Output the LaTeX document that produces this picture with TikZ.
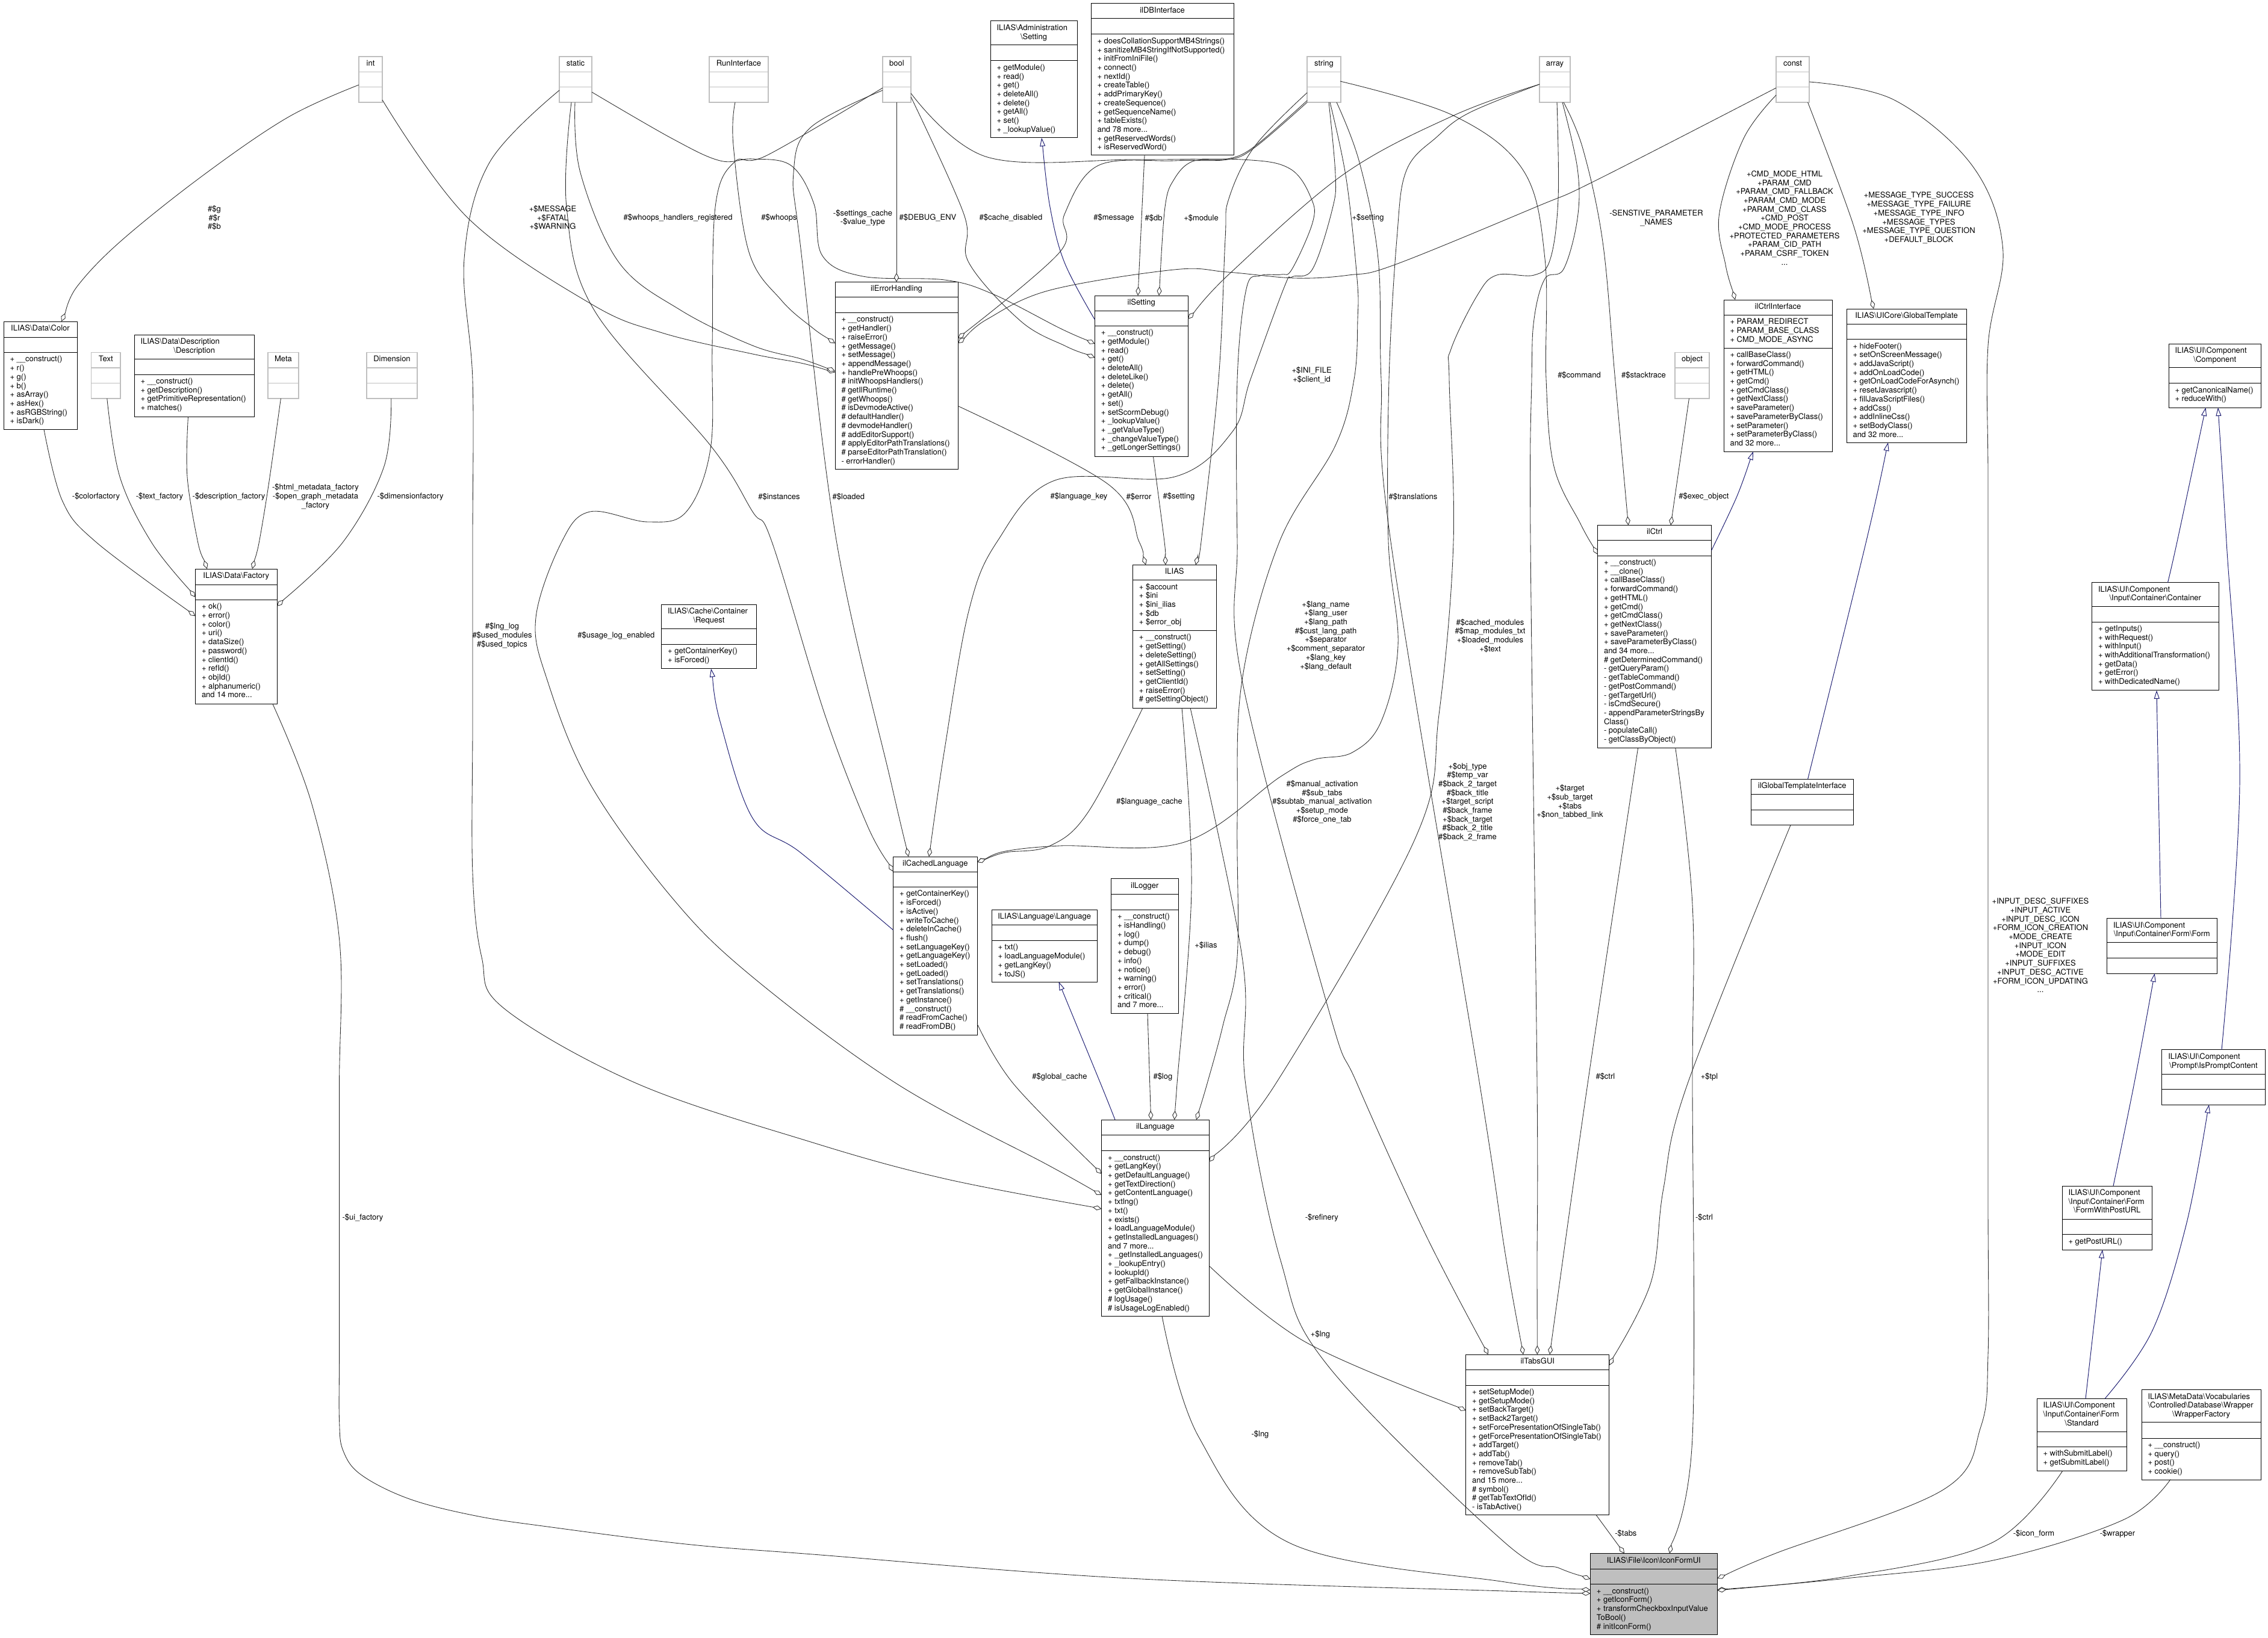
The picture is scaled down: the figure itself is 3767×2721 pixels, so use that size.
\documentclass[tikz,border=0pt]{standalone}
\usepackage{fontspec}
\setmainfont{TeX Gyre Heros}
\usetikzlibrary{arrows.meta,calc}
\definecolor{edgecol}{HTML}{2A2A2A}
\definecolor{navyedge}{HTML}{191970}
\definecolor{ghostcol}{HTML}{BFBFBF}
\tikzset{
  umlframe/.style={draw=black,line width=1pt},
  ghost/.style={draw=ghostcol,line width=1.4pt},
  rootframe/.style={draw=black,fill=ghostcol,line width=1pt},
  ctext/.style={inner sep=0pt,outer sep=0pt,align=left,font=\fontsize{13}{14.7}\selectfont},
  lab/.style={inner sep=0pt,outer sep=0pt,align=center,font=\fontsize{13}{14.7}\selectfont},
  dep/.style={draw=edgecol,line width=0.85pt,-{Diamond[fill=white,length=15pt,width=8pt]}},
  inh/.style={draw=navyedge,line width=0.95pt,-{Triangle[fill=white,length=14pt,width=9pt]}},
  sm/.style={smooth,tension=0.6}
}
\newcommand{\cls}[8][umlframe]{%
  \pgfmathsetmacro{\cw}{#5-#3}%
  \pgfmathsetmacro{\ch}{#6-#4}%
  \def\cname{#2}\def\cx{#3}\def\cxx{#5}\def\la{#7}\def\lb{#8}%
  \node[#1,rectangle,inner sep=0pt,outer sep=0pt,anchor=north west,minimum width=\cw pt,minimum height=\ch pt] (#2) at (#3,#4) {};
  \draw[#1] (#3,#7) -- (#5,#7);
  \draw[#1] (#3,#8) -- (#5,#8);
}
\newcommand{\tlft}[1]{\makebox[\cw pt][l]{\hspace*{10.5pt}#1}}
\newcommand{\tctr}[1]{\makebox[\cw pt][c]{#1}}
\newcommand{\clsT}[1]{\node[ctext,anchor=north west] (\cname-t) at ([shift={(0,5.2)}]\cname.north west) {\strut#1};}
\newcommand{\clsA}[1]{\node[ctext,anchor=north west] (\cname-a) at (\cx+10.5,\la+5.2) {\strut#1};}
\newcommand{\clsM}[1]{\node[ctext,anchor=north west] (\cname-m) at (\cx+10.5,\lb+5.2) {\strut#1};}
\newcommand{\lbl}[4]{\node[lab] (#1) at (#2,#3) {#4};}
\begin{document}
\begin{tikzpicture}[x=1pt,y=-1pt]
\useasboundingbox (0,0) rectangle (3767,2721);
\fill[white] (0,0) rectangle (3767,2721);
% ---------- undocumented types
\cls[ghost]{int}{596}{94}{635}{170}{119.4}{144.6} \clsT{\tctr{int}}
\cls[ghost]{static}{929}{94}{983}{170}{119.4}{144.6} \clsT{\tctr{static}}
\cls[ghost]{run}{1178}{94}{1276}{170}{119.4}{144.6} \clsT{\tctr{RunInterface}}
\cls[ghost]{bool}{1466}{94}{1513}{170}{119.4}{144.6} \clsT{\tctr{bool}}
\cls[ghost]{string}{2171}{94}{2227}{170}{119.4}{144.6} \clsT{\tctr{string}}
\cls[ghost]{array}{2557}{94}{2608}{170}{119.4}{144.6} \clsT{\tctr{array}}
\cls[ghost]{const}{2950}{94}{3005}{170}{119.4}{144.6} \clsT{\tctr{const}}
\cls[ghost]{text}{151.5}{585.5}{200}{662}{611}{636.6} \clsT{\tctr{Text}}
\cls[ghost]{meta}{445}{585.5}{496}{662}{611}{636.6} \clsT{\tctr{Meta}}
\cls[ghost]{dim}{609}{585.5}{693}{662}{611}{636.6} \clsT{\tctr{Dimension}}
\cls[ghost]{object}{2782}{585.5}{2839}{662}{611}{636.6} \clsT{\tctr{object}}
% ---------- classes
\cls{adminset}{1645}{35}{1789}{229}{74.6}{101}
\clsT{\tlft{ILIAS\textbackslash Administration}\\\tctr{\textbackslash Setting}}
\clsM{+ getModule()\\+ read()\\+ get()\\+ deleteAll()\\+ delete()\\+ getAll()\\+ set()\\+ \_lookupValue()}
\cls{db}{1812}{6}{2049}{258}{31}{57}
\clsT{\tctr{ilDBInterface}}
\clsM{+ doesCollationSupportMB4Strings()\\+ sanitizeMB4StringIfNotSupported()\\+ initFromIniFile()\\+ connect()\\+ nextId()\\+ createTable()\\+ addPrimaryKey()\\+ createSequence()\\+ getSequenceName()\\+ tableExists()\\and 78 more...\\+ getReservedWords()\\+ isReservedWord()}
\cls{color}{6}{534}{128}{713.5}{560}{585.5}
\clsT{\tctr{ILIAS\textbackslash Data\textbackslash Color}}
\clsM{+ \_\_construct()\\+ r()\\+ g()\\+ b()\\+ asArray()\\+ asHex()\\+ asRGBString()\\+ isDark()}
\cls{desc}{223}{556}{422.5}{692}{596.4}{622}
\clsT{\tlft{ILIAS\textbackslash Data\textbackslash Description}\\\tctr{\textbackslash Description}}
\clsM{+ \_\_construct()\\+ getDescription()\\+ getPrimitiveRepresentation()\\+ matches()}
\cls{factory}{324.5}{945}{460}{1169}{971}{996.4}
\clsT{\tctr{ILIAS\textbackslash Data\textbackslash Factory}}
\clsM{+ ok()\\+ error()\\+ color()\\+ uri()\\+ dataSize()\\+ password()\\+ clientId()\\+ refId()\\+ objId()\\+ alphanumeric()\\and 14 more...}
\cls{request}{1098.6}{1004.5}{1256.4}{1110.7}{1044.6}{1070}
\clsT{\tlft{ILIAS\textbackslash Cache\textbackslash Container}\\\tctr{\textbackslash Request}}
\clsM{+ getContainerKey()\\+ isForced()}
\cls{eh}{1387}{468.4}{1591}{779.5}{493.6}{519.5}
\clsT{\tctr{ilErrorHandling}}
\clsM{+ \_\_construct()\\+ getHandler()\\+ raiseError()\\+ getMessage()\\+ setMessage()\\+ appendMessage()\\+ handlePreWhoops()\\\# initWhoopsHandlers()\\\# getIlRuntime()\\\# getWhoops()\\\# isDevmodeActive()\\\# defaultHandler()\\\# devmodeHandler()\\\# addEditorSupport()\\\# applyEditorPathTranslations()\\\# parseEditorPathTranslation()\\- errorHandler()}
\cls{set}{1818.4}{491}{1973}{758}{516}{541.3}
\clsT{\tctr{ilSetting}}
\clsM{+ \_\_construct()\\+ getModule()\\+ read()\\+ get()\\+ deleteAll()\\+ deleteLike()\\+ delete()\\+ getAll()\\+ set()\\+ setScormDebug()\\+ \_lookupValue()\\+ \_getValueType()\\+ \_changeValueType()\\+ \_getLongerSettings()}
\cls{cif}{2863}{498}{3043}{750}{523.5}{578}
\clsT{\tctr{ilCtrlInterface}}
\clsA{+ PARAM\_REDIRECT\\+ PARAM\_BASE\_CLASS\\+ CMD\_MODE\_ASYNC}
\clsM{+ callBaseClass()\\+ forwardCommand()\\+ getHTML()\\+ getCmd()\\+ getCmdClass()\\+ getNextClass()\\+ saveParameter()\\+ saveParameterByClass()\\+ setParameter()\\+ setParameterByClass()\\and 32 more...}
\cls{gt}{3067}{513}{3266}{735}{538}{563.7}
\clsT{\tctr{ILIAS\textbackslash UICore\textbackslash GlobalTemplate}}
\clsM{+ hideFooter()\\+ setOnScreenMessage()\\+ addJavaScript()\\+ addOnLoadCode()\\+ getOnLoadCodeForAsynch()\\+ resetJavascript()\\+ fillJavaScriptFiles()\\+ addCss()\\+ addInlineCss()\\+ setBodyClass()\\and 32 more...}
\cls{ctrl}{2653.5}{872.5}{2842.6}{1242.7}{897.7}{923}
\clsT{\tctr{ilCtrl}}
\clsM{+ \_\_construct()\\+ \_\_clone()\\+ callBaseClass()\\+ forwardCommand()\\+ getHTML()\\+ getCmd()\\+ getCmdClass()\\+ getNextClass()\\+ saveParameter()\\+ saveParameterByClass()\\and 34 more...\\\# getDeterminedCommand()\\- getQueryParam()\\- getTableCommand()\\- getPostCommand()\\- getTargetUrl()\\- isCmdSecure()\\- appendParameterStringsBy\\Class()\\- populateCall()\\- getClassByObject()}
\cls{comp}{3602}{571}{3755.6}{677}{610.7}{636.6}
\clsT{\tlft{ILIAS\textbackslash UI\textbackslash Component}\\\tctr{\textbackslash Component}}
\clsM{+ getCanonicalName()\\+ reduceWith()}
\cls{cont}{3474.5}{967.7}{3685}{1146.8}{1007.3}{1033}
\clsT{\tlft{ILIAS\textbackslash UI\textbackslash Component}\\\tctr{\textbackslash Input\textbackslash Container\textbackslash Container}}
\clsM{+ getInputs()\\+ withRequest()\\+ withInput()\\+ withAdditionalTransformation()\\+ getData()\\+ getError()\\+ withDedicatedName()}
\cls{form}{3499.5}{1525.7}{3682}{1617}{1565.8}{1591.7}
\clsT{\tlft{ILIAS\textbackslash UI\textbackslash Component}\\\tctr{\textbackslash Input\textbackslash Container\textbackslash Form\textbackslash Form}}
\cls{prompt}{3590.8}{1743.8}{3762}{1835}{1784.5}{1809.4}
\clsT{\tlft{ILIAS\textbackslash UI\textbackslash Component}\\\tctr{\textbackslash Prompt\textbackslash IsPromptContent}}
\cls{git}{2908}{1294.3}{3078.5}{1370.7}{1319.6}{1345.4}
\clsT{\tctr{ilGlobalTemplateInterface}}
\cls{ilias}{1881.4}{938.5}{2020}{1176}{963.7}{1047.5}
\clsT{\tctr{ILIAS}}
\clsA{+ \$account\\+ \$ini\\+ \$ini\_ilias\\+ \$db\\+ \$error\_obj}
\clsM{+ \_\_construct()\\+ getSetting()\\+ deleteSetting()\\+ getAllSettings()\\+ setSetting()\\+ getClientId()\\+ raiseError()\\\# getSettingObject()}
\cls{clang}{1483.6}{1423}{1623}{1719.7}{1448.7}{1473.4}
\clsT{\tctr{ilCachedLanguage}}
\clsM{+ getContainerKey()\\+ isForced()\\+ isActive()\\+ writeToCache()\\+ deleteInCache()\\+ flush()\\+ setLanguageKey()\\+ getLanguageKey()\\+ setLoaded()\\+ getLoaded()\\+ setTranslations()\\+ getTranslations()\\+ getInstance()\\\# \_\_construct()\\\# readFromCache()\\\# readFromDB()}
\cls{lang}{1647}{1511.3}{1822.4}{1631}{1536.6}{1562.4}
\clsT{\tctr{ILIAS\textbackslash Language\textbackslash Language}}
\clsM{+ txt()\\+ loadLanguageModule()\\+ getLangKey()\\+ toJS()}
\cls{logger}{1845.5}{1459.7}{1957}{1683}{1485.5}{1511.3}
\clsT{\tctr{ilLogger}}
\clsM{+ \_\_construct()\\+ isHandling()\\+ log()\\+ dump()\\+ debug()\\+ info()\\+ notice()\\+ warning()\\+ error()\\+ critical()\\and 7 more...}
\cls{ilang}{1829.6}{1860}{2008}{2186}{1885.8}{1911.6}
\clsT{\tctr{ilLanguage}}
\clsM{+ \_\_construct()\\+ getLangKey()\\+ getDefaultLanguage()\\+ getTextDirection()\\+ getContentLanguage()\\+ txtlng()\\+ txt()\\+ exists()\\+ loadLanguageModule()\\+ getInstalledLanguages()\\and 7 more...\\+ \_getInstalledLanguages()\\+ \_lookupEntry()\\+ lookupId()\\+ getFallbackInstance()\\+ getGlobalInstance()\\\# logUsage()\\\# isUsageLogEnabled()}
\cls{tabs}{2434.7}{2250}{2672.9}{2516.6}{2275}{2301}
\clsT{\tctr{ilTabsGUI}}
\clsM{+ setSetupMode()\\+ getSetupMode()\\+ setBackTarget()\\+ setBack2Target()\\+ setForcePresentationOfSingleTab()\\+ getForcePresentationOfSingleTab()\\+ addTarget()\\+ addTab()\\+ removeTab()\\+ removeSubTab()\\and 15 more...\\\# symbol()\\\# getTabTextOfId()\\- isTabActive()}
\cls{std}{3383}{2323.4}{3532}{2443}{2378}{2403}
\clsT{\tlft{ILIAS\textbackslash UI\textbackslash Component}\\\tlft{\textbackslash Input\textbackslash Container\textbackslash Form}\\\tctr{\textbackslash Standard}}
\clsM{+ withSubmitLabel()\\+ getSubmitLabel()}
\cls{post}{3425}{1970}{3574.6}{2076}{2025}{2050.8}
\clsT{\tlft{ILIAS\textbackslash UI\textbackslash Component}\\\tlft{\textbackslash Input\textbackslash Container\textbackslash Form}\\\tctr{\textbackslash FormWithPostURL}}
\clsM{+ getPostURL()}
\cls{wrap}{3557}{2308.7}{3755}{2458}{2362.7}{2389}
\clsT{\tlft{ILIAS\textbackslash MetaData\textbackslash Vocabularies}\\\tlft{\textbackslash Controlled\textbackslash Database\textbackslash Wrapper}\\\tctr{\textbackslash WrapperFactory}}
\clsM{+ \_\_construct()\\+ query()\\+ post()\\+ cookie()}
\cls[rootframe]{icon}{2641.4}{2580.6}{2852.3}{2715}{2606.5}{2631.7}
\clsT{\tctr{ILIAS\textbackslash File\textbackslash Icon\textbackslash IconFormUI}}
\clsM{+ \_\_construct()\\+ getIconForm()\\+ transformCheckboxInputValue\\ToBool()\\\# initIconForm()}
% ---------- inheritance connectors
\draw[inh] plot[sm] coordinates {([shift={(0,40)}]set.north west) (1768,436) (1744,344) ($([shift={(85,194)}]adminset.north west)!16pt!(1744,344)$)} -- ([shift={(85,194)}]adminset.north west);
\draw[inh] plot[sm] coordinates {([shift={(189,42)}]ctrl.north west) (2884,826.6) ($([shift={(49,252)}]cif.north west)!16pt!(2884,826.6)$)} -- ([shift={(49,252)}]cif.north west);
\draw[inh] plot[sm] coordinates {([shift={(94.6,0)}]git.north west) (3099.5,900) ($([shift={(69,222)}]gt.north west)!16pt!(3099.5,900)$)} -- ([shift={(69,222)}]gt.north west);
\draw[inh] plot[sm] coordinates {([shift={(22.4,0)}]ilang.north west) (1828,1800) ($([shift={(111.5,119.7)}]lang.north west)!16pt!(1828,1800)$)} -- ([shift={(111.5,119.7)}]lang.north west);
\draw[inh] plot[sm] coordinates {([shift={(0,122)}]clang.north west) (1330,1416.6) (1250,1359) (1196,1198.5) ($([shift={(82.4,106.2)}]request.north west)!16pt!(1196,1198.5)$)} -- ([shift={(82.4,106.2)}]request.north west);
\draw[inh] plot[sm] coordinates {([shift={(126,0)}]cont.north west) (3616,900) ($([shift={(61.5,106)}]comp.north west)!16pt!(3616,900)$)} -- ([shift={(61.5,106)}]comp.north west);
\draw[inh] plot[sm] coordinates {([shift={(99.2,0)}]prompt.north west) (3720,1302) (3698,900) ($([shift={(82,106)}]comp.north west)!16pt!(3698,900)$)} -- ([shift={(82,106)}]comp.north west);
\draw[inh] ([shift={(89.5,0)}]form.north west) -- ([shift={(107.5,179.1)}]cont.north west);
\draw[inh] plot[sm] coordinates {([shift={(85,0)}]post.north west) (3544.7,1800) ($([shift={(79.2,91.3)}]form.north west)!16pt!(3544.7,1800)$)} -- ([shift={(79.2,91.3)}]form.north west);
\draw[inh] ([shift={(81,0)}]std.north west) -- ([shift={(67,106)}]post.north west);
\draw[inh] plot[sm] coordinates {([shift={(113,0)}]std.north west) (3574.6,2211) (3631,2035) ($([shift={(78.2,91.2)}]prompt.north west)!16pt!(3631,2035)$)} -- ([shift={(78.2,91.2)}]prompt.north west);
% ---------- usage connectors
\draw[dep] plot[sm] coordinates {([shift={(0,47)}]int.north west) (478,195) (335,293) (199,402) (128,476) ($([shift={(96,0)}]color.north west)!16pt!(128,476)$)} -- ([shift={(96,0)}]color.north west);
\draw[dep] plot[sm] coordinates {([shift={(39,72)}]int.north west) (777,362) (982,505) (1100,553) (1250,588) (1330,603) ($([shift={(0,150)}]eh.north west)!16pt!(1330,603)$)} -- ([shift={(0,150)}]eh.north west);
\draw[dep] plot[sm] coordinates {([shift={(26,76)}]static.north west) (964,287) (1028,436) (1130,515) (1250,574) (1330,596) ($([shift={(0,148)}]eh.north west)!16pt!(1330,596)$)} -- ([shift={(0,148)}]eh.north west);
\draw[dep] plot[sm] coordinates {([shift={(0,56)}]static.north west) (813,270) (771,430) (785,631) (785,900) (785,1200) (785,1450) (800,1590) (837,1675) (1058,1800) (1350,1898) (1569,1958) ($([shift={(0,148)}]ilang.north west)!16pt!(1569,1958)$)} -- ([shift={(0,148)}]ilang.north west);
\draw[dep] plot[sm] coordinates {([shift={(20,76)}]static.north west) (941,344) (988,517) (1180,740) (1250,850) (1282,900) (1370,1187) (1440,1370) ($([shift={(0,25)}]clang.north west)!16pt!(1440,1370)$)} -- ([shift={(0,25)}]clang.north west);
\draw[dep] plot[sm] coordinates {([shift={(54,59)}]static.north west) (1116,230) (1196,267) (1250,264) (1314,275) (1352,339) (1366,425) (1433,459) (1569,465) (1648,488) (1760,545) ($([shift={(0,80)}]set.north west)!16pt!(1760,545)$)} -- ([shift={(0,80)}]set.north west);
\draw[dep] plot[sm] coordinates {([shift={(43,76)}]run.north west) (1218,241) (1244,419) (1298,499) (1350,545) ($([shift={(0,102)}]eh.north west)!16pt!(1350,545)$)} -- ([shift={(0,102)}]eh.north west);
\draw[dep] ([shift={(23,76)}]bool.north west) -- ([shift={(102,0)}]eh.north west);
\draw[dep] plot[sm] coordinates {([shift={(0,52)}]bool.north west) (1274,258) (1220,269) (1188,344) (1183,574) (1180,746) (1140,850) (1076,867) (980,850) (933,900) (890,1026) (909,1130) (980,1302) (1116,1491) (1250,1623) (1489,1800) (1740,1935) ($([shift={(0,125)}]ilang.north west)!16pt!(1740,1935)$)} -- ([shift={(0,125)}]ilang.north west);
\draw[dep] plot[sm] coordinates {([shift={(0,56)}]bool.north west) (1346,212) (1318,287) (1330,413) (1389.5,900) (1480,1300) ($([shift={(25.4,0)}]clang.north west)!16pt!(1480,1300)$)} -- ([shift={(25.4,0)}]clang.north west);
\draw[dep] plot[sm] coordinates {([shift={(47,67)}]bool.north west) (1601,356) (1609,436) (1696,534) (1770,575) ($([shift={(0,103)}]set.north west)!16pt!(1770,575)$)} -- ([shift={(0,103)}]set.north west);
\draw[dep] plot[sm] coordinates {([shift={(47,61)}]bool.north west) (1640,261) (1888,265) (2062,265) (2142,280) (2178,330) (2180,370) (2146,447) (2128,456) (2093,458) (2070,480) (2055,630) (2055,900) (2063,1130) (2206,1675) (2254,1800) (2366,2047) ($([shift={(37,0)}]tabs.north west)!16pt!(2366,2047)$)} -- ([shift={(37,0)}]tabs.north west);
\draw[dep] plot[sm] coordinates {([shift={(36,76)}]string.north west) (2218,290) (2213,347) (2180,447) (2146,460) (2133,477) (2077,630) (2047,717) (1951,792) (1752,798) (1656,900) (1609,1015) (1569,1244) ($([shift={(59.4,0)}]clang.north west)!16pt!(1569,1244)$)} -- ([shift={(59.4,0)}]clang.north west);
\draw[dep] plot[sm] coordinates {([shift={(0,60)}]string.north west) (2084,243) (2041,330) (2035,397) (2024,630) (1995,900) ($([shift={(104.6,0)}]ilias.north west)!16pt!(1995,900)$)} -- ([shift={(104.6,0)}]ilias.north west);
\draw[dep] plot[sm] coordinates {([shift={(0,73)}]string.north west) (2084,243) (2039,264) (1981,268) (1950,298) (1935,344) ($([shift={(106.6,0)}]set.north west)!16pt!(1935,344)$)} -- ([shift={(106.6,0)}]set.north west);
\draw[dep] plot[sm] coordinates {([shift={(0,76)}]string.north west) (2084,245) (2039,265) (1950,267) (1824,275) (1768,356) (1760,419) ($([shift={(204,94)}]eh.north west)!16pt!(1760,419)$)} -- ([shift={(204,94)}]eh.north west);
\draw[dep] plot[sm] coordinates {([shift={(0,52)}]const.north west) (2650,300) (2553,343) (2316,440) (2240,457) (2151,462) (2039,452) (1950,448) (1744,482) (1640,530) ($([shift={(204,102)}]eh.north west)!16pt!(1640,530)$)} -- ([shift={(204,102)}]eh.north west);
\draw[dep] plot[sm] coordinates {([shift={(0,46)}]array.north west) (2414,192) (2231,290) (2044,453) ($([shift={(154.6,39)}]set.north west)!16pt!(2044,453)$)} -- ([shift={(154.6,39)}]set.north west);
\draw[dep] plot[sm] coordinates {([shift={(0,46)}]array.north west) (2441,187) (2387,227) (2336,283) (2320,397) (2307,630) (2306,900) (2322,1072) (2294,1198.5) (2246,1250) (2182,1262) (2127,1290) (1967,1399) (1760,1405) (1670,1414) ($([shift={(139.4,9)}]clang.north west)!16pt!(1670,1414)$)} -- ([shift={(139.4,9)}]clang.north west);
\draw[dep] plot[sm] coordinates {([shift={(16.6,237.5)}]ilias.north west) (1808,1348) (1744,1405) (1670,1416) ($([shift={(139.4,9)}]clang.north west)!16pt!(1670,1416)$)} -- ([shift={(139.4,9)}]clang.north west);
\draw[dep] plot[sm] coordinates {([shift={(204,206)}]eh.north west) (1840,804) (1892,900) ($([shift={(21.6,0)}]ilias.north west)!16pt!(1892,900)$)} -- ([shift={(21.6,0)}]ilias.north west);
\draw[dep] plot[sm] coordinates {([shift={(97,267)}]set.north west) (1934,900) ($([shift={(54.6,0)}]ilias.north west)!16pt!(1934,900)$)} -- ([shift={(54.6,0)}]ilias.north west);
\draw[dep] ([shift={(89,252)}]db.north west) -- ([shift={(71.6,0)}]set.north west);
\draw[dep] plot[sm] coordinates {([shift={(55,41)}]string.north west) (2414,192) (2530,283) (2566,430) (2568,630) (2581,775) (2625,870) ($([shift={(0,48.5)}]ctrl.north west)!16pt!(2625,870)$)} -- ([shift={(0,48.5)}]ctrl.north west);
\draw[dep] plot[sm] coordinates {([shift={(40,76)}]array.north west) (2629,247) (2662,402) (2682,623) ($([shift={(51,0)}]ctrl.north west)!16pt!(2682,623)$)} -- ([shift={(51,0)}]ctrl.north west);
\draw[dep] ([shift={(23.4,76.5)}]object.north west) -- ([shift={(121.5,0)}]ctrl.north west);
\draw[dep] plot[sm] coordinates {([shift={(0,64)}]const.north west) (2896,230) (2855.5,356) (2866,440) ($([shift={(19,0)}]cif.north west)!16pt!(2866,440)$)} -- ([shift={(19,0)}]cif.north west);
\draw[dep] plot[sm] coordinates {([shift={(52.6,76)}]const.north west) (3078,373) ($([shift={(45,0)}]gt.north west)!16pt!(3078,373)$)} -- ([shift={(45,0)}]gt.north west);
\draw[dep] plot[sm] coordinates {([shift={(55,42)}]const.north west) (3146,166) (3276,275.5) (3326.6,413) (3302,574) (3302,800) (3302,1200) (3302,1600) (3302,2000) (3302,2250) (3290,2370) (3227,2475) (2950,2580) ($([shift={(210.9,41.4)}]icon.north west)!16pt!(2950,2580)$)} -- ([shift={(210.9,41.4)}]icon.north west);
\draw[dep] plot[sm] coordinates {([shift={(81.6,237.5)}]ilias.north west) (1979,1474) (1955,1800) ($([shift={(121,0)}]ilang.north west)!16pt!(1955,1800)$)} -- ([shift={(121,0)}]ilang.north west);
\draw[dep] plot[sm] coordinates {([shift={(95.6,237.5)}]ilias.north west) (2063,1589) (2068.7,1800) (2127,2094) (2206.6,2270) (2500,2563) (2590,2605) ($([shift={(0,42.4)}]icon.north west)!16pt!(2590,2605)$)} -- ([shift={(0,42.4)}]icon.north west);
\draw[dep] plot[sm] coordinates {([shift={(100.4,326)}]ilang.north west) (1991,2387) (2143,2563.6) (2500,2628) ($([shift={(0,60.6)}]icon.north west)!16pt!(2500,2628)$)} -- ([shift={(0,60.6)}]icon.north west);
\draw[dep] plot[sm] coordinates {([shift={(128.2,224)}]factory.north west) (518,1336) (563.6,1560) (563.6,1800) (563.6,2050) (563.6,2250) (563.6,2360) (570,2410) (600,2450) (680,2490) (790,2518) (909,2536) (1139,2565) (1350,2582) (1877,2622) (2500,2643) ($([shift={(0,66.4)}]icon.north west)!16pt!(2500,2643)$)} -- ([shift={(0,66.4)}]icon.north west);
\draw[dep] plot[sm] coordinates {([shift={(178.4,242.5)}]ilang.north west) (2167,2228.6) ($([shift={(0,93)}]tabs.north west)!16pt!(2167,2228.6)$)} -- ([shift={(0,93)}]tabs.north west);
\draw[dep] plot[sm] coordinates {([shift={(139.4,277.7)}]clang.north west) (1683,1800) ($([shift={(0,90)}]ilang.north west)!16pt!(1683,1800)$)} -- ([shift={(0,90)}]ilang.north west);
\draw[dep] ([shift={(60.5,223.3)}]logger.north west) -- ([shift={(82,0)}]ilang.north west);
\draw[dep] plot[sm] coordinates {([shift={(38,76)}]string.north west) (2236,297) (2254,463) (2255,530) (2249,630) (2218,740) (2125,900) (2063,1130) (2055,1359) (2055,1589) (2031,1704) (2005,1800) ($([shift={(157.4,0)}]ilang.north west)!16pt!(2005,1800)$)} -- ([shift={(157.4,0)}]ilang.north west);
\draw[dep] plot[sm] coordinates {([shift={(29,76)}]array.north west) (2588,330) (2575,430) (2548,457) (2486,457) (2454,490) (2410,580) (2407,630) (2414,900) (2390,1187) (2350,1394) (2119,1800) ($([shift={(178.4,70)}]ilang.north west)!16pt!(2119,1800)$)} -- ([shift={(178.4,70)}]ilang.north west);
\draw[dep] plot[sm] coordinates {([shift={(49,76)}]string.north west) (2258,270) (2289,430) (2294,630) (2310,900) (2457.5,1800) (2500,2082) ($([shift={(95.3,0)}]tabs.north west)!16pt!(2500,2082)$)} -- ([shift={(95.3,0)}]tabs.north west);
\draw[dep] plot[sm] coordinates {([shift={(38,76)}]array.north west) (2620,280) (2620,363) (2597,447) (2566,463) (2548,530) (2544,630) (2542,900) (2553,1800) (2553,2100) ($([shift={(118.6,0)}]tabs.north west)!16pt!(2553,2100)$)} -- ([shift={(118.6,0)}]tabs.north west);
\draw[dep] plot[sm] coordinates {([shift={(67,370.5)}]ctrl.north west) (2637,1800) ($([shift={(139.3,0)}]tabs.north west)!16pt!(2637,1800)$)} -- ([shift={(139.3,0)}]tabs.north west);
\draw[dep] plot[sm] coordinates {([shift={(66,76.4)}]git.north west) (2803,1800) (2762.6,1976) (2742.4,2129) ($([shift={(238.2,18)}]tabs.north west)!16pt!(2742.4,2129)$)} -- ([shift={(238.2,18)}]tabs.north west);
\draw[dep] ([shift={(216.3,266.6)}]tabs.north west) -- ([shift={(56.6,0)}]icon.north west);
\draw[dep] plot[sm] coordinates {([shift={(129.3,370.2)}]ctrl.north west) (2811,1502.7) (2811,1800) (2811,2387) ($([shift={(131.6,0)}]icon.north west)!16pt!(2811,2387)$)} -- ([shift={(131.6,0)}]icon.north west);
\draw[dep] plot[sm] coordinates {([shift={(43,119.6)}]std.north west) (3308,2563) (3065.6,2619) ($([shift={(210.9,60.4)}]icon.north west)!16pt!(3065.6,2619)$)} -- ([shift={(210.9,60.4)}]icon.north west);
\draw[dep] plot[sm] coordinates {([shift={(48,148.8)}]wrap.north west) (3526,2525) (3308,2592.5) (3065.6,2622) ($([shift={(210.9,61.4)}]icon.north west)!16pt!(3065.6,2622)$)} -- ([shift={(210.9,61.4)}]icon.north west);
\draw[dep] plot[sm] coordinates {([shift={(67,179.5)}]color.north west) (103.6,832) (159,900) ($([shift={(0,78.4)}]factory.north west)!16pt!(159,900)$)} -- ([shift={(0,78.4)}]factory.north west);
\draw[dep] plot[sm] coordinates {([shift={(26.3,76.5)}]text.north west) (199,792) (251,900) ($([shift={(0,47)}]factory.north west)!16pt!(251,900)$)} -- ([shift={(0,47)}]factory.north west);
\draw[dep] plot[sm] coordinates {([shift={(89.5,136)}]desc.north west) (311,792) (328.5,900) ($([shift={(19.5,0)}]factory.north west)!16pt!(328.5,900)$)} -- ([shift={(19.5,0)}]factory.north west);
\draw[dep] plot[sm] coordinates {([shift={(21.4,76.5)}]meta.north west) (446.4,803.6) (430.5,900) ($([shift={(94.5,0)}]factory.north west)!16pt!(430.5,900)$)} -- ([shift={(94.5,0)}]factory.north west);
\draw[dep] plot[sm] coordinates {([shift={(40.7,76.5)}]dim.north west) (637.8,775) (570,900) ($([shift={(135.5,62)}]factory.north west)!16pt!(570,900)$)} -- ([shift={(135.5,62)}]factory.north west);
% ---------- connector labels
\lbl{l1}{356}{362}{\#\$g\\\#\$r\\\#\$b}
\lbl{l2}{918}{362}{+\$MESSAGE\\+\$FATAL\\+\$WARNING}
\lbl{l3}{1126}{362}{\#\$whoops\_handlers\_registered}
\lbl{l4}{159.5}{825}{-\$colorfactory}
\lbl{l5}{265}{825}{-\$text\_factory}
\lbl{l6}{380}{825}{-\$description\_factory}
\lbl{l7}{524}{825}{-\$html\_metadata\_factory\\-\$open\_graph\_metadata\\\_factory}
\lbl{l8}{681.6}{825}{-\$dimensionfactory}
\lbl{l9}{1294}{362}{\#\$whoops}
\lbl{l10}{1433}{362}{-\$settings\_cache\\-\$value\_type}
\lbl{l11}{1541}{362}{\#\$DEBUG\_ENV}
\lbl{l12}{1679}{362}{\#\$cache\_disabled}
\lbl{l13}{1850}{362}{\#\$message}
\lbl{l14}{1916}{362}{\#\$db}
\lbl{l15}{1995}{362}{+\$module}
\lbl{l16}{2272}{362}{+\$setting}
\lbl{l17}{2178.6}{623}{+\$INI\_FILE\\+\$client\_id}
\lbl{l18}{1294}{825}{\#\$instances}
\lbl{l19}{1409.4}{825}{\#\$loaded}
\lbl{l20}{1792}{825}{\#\$language\_key}
\lbl{l21}{1891.6}{825}{\#\$error}
\lbl{l22}{1958}{825}{\#\$setting}
\lbl{l23}{2347}{825}{\#\$translations}
\lbl{l24}{2751}{362}{-SENSTIVE\_PARAMETER\\\_NAMES}
\lbl{l25}{2964}{362}{+CMD\_MODE\_HTML\\+PARAM\_CMD\\+PARAM\_CMD\_FALLBACK\\+PARAM\_CMD\_MODE\\+PARAM\_CMD\_CLASS\\+CMD\_POST\\+CMD\_MODE\_PROCESS\\+PROTECTED\_PARAMETERS\\+PARAM\_CID\_PATH\\+PARAM\_CSRF\_TOKEN\\...}
\lbl{l26}{3187}{362}{+MESSAGE\_TYPE\_SUCCESS\\+MESSAGE\_TYPE\_FAILURE\\+MESSAGE\_TYPE\_INFO\\+MESSAGE\_TYPES\\+MESSAGE\_TYPE\_QUESTION\\+DEFAULT\_BLOCK}
\lbl{l27}{2623}{623}{\#\$command}
\lbl{l28}{2730}{623}{\#\$stacktrace}
\lbl{l29}{2830}{825}{\#\$exec\_object}
\lbl{l30}{834}{1056}{\#\$lng\_log\\\#\$used\_modules\\\#\$used\_topics}
\lbl{l31}{1023.4}{1056}{\#\$usage\_log\_enabled}
\lbl{l32}{2202}{1056}{+\$lang\_name\\+\$lang\_user\\+\$lang\_path\\\#\$cust\_lang\_path\\+\$separator\\+\$comment\_separator\\+\$lang\_key\\+\$lang\_default}
\lbl{l33}{2475}{1056}{\#\$cached\_modules\\\#\$map\_modules\_txt\\+\$loaded\_modules\\+\$text}
\lbl{l34}{1909}{1332}{\#\$language\_cache}
\lbl{l35}{2196}{1332}{\#\$manual\_activation\\\#\$sub\_tabs\\\#\$subtab\_manual\_activation\\+\$setup\_mode\\\#\$force\_one\_tab}
\lbl{l36}{2437.5}{1332}{+\$obj\_type\\\#\$temp\_var\\\#\$back\_2\_target\\\#\$back\_title\\+\$target\_script\\\#\$back\_frame\\+\$back\_target\\\#\$back\_2\_title\\\#\$back\_2\_frame}
\lbl{l37}{2607.5}{1332}{+\$target\\+\$sub\_target\\+\$tabs\\+\$non\_tabbed\_link}
\lbl{l38}{2003}{1570.4}{+\$ilias}
\lbl{l39}{1760}{1788.6}{\#\$global\_cache}
\lbl{l40}{1931.4}{1788.6}{\#\$log}
\lbl{l41}{2666.4}{1788.6}{\#\$ctrl}
\lbl{l42}{2839}{1788.6}{+\$tpl}
\lbl{l43}{3389}{1570.4}{+INPUT\_DESC\_SUFFIXES\\+INPUT\_ACTIVE\\+INPUT\_DESC\_ICON\\+FORM\_ICON\_CREATION\\+MODE\_CREATE\\+INPUT\_ICON\\+MODE\_EDIT\\+INPUT\_SUFFIXES\\+INPUT\_DESC\_ACTIVE\\+FORM\_ICON\_UPDATING\\...}
\lbl{l44}{2195.4}{2023}{-\$refinery}
\lbl{l45}{2193}{2217}{+\$lng}
\lbl{l46}{2093}{2382.6}{-\$lng}
\lbl{l47}{2830.5}{2022.6}{-\$ctrl}
\lbl{l48}{2700.4}{2547.7}{-\$tabs}
\lbl{l49}{3378}{2547.7}{-\$icon\_form}
\lbl{l50}{3517}{2547.7}{-\$wrapper}
\lbl{l51}{602.5}{2023}{-\$ui\_factory}
\end{tikzpicture}
\end{document}
